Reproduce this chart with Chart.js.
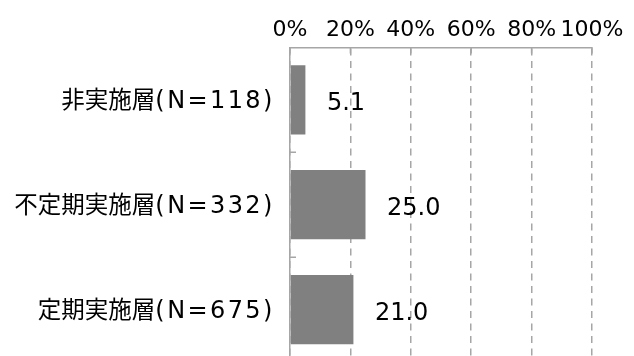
<!DOCTYPE html>
<html>
<head>
<meta charset="utf-8">
<script src="https://cdn.jsdelivr.net/npm/chart.js@4"></script>
<style>
  html, body { margin: 0; padding: 0; overflow: hidden; background: #fff; }
  #wrap { width: 634px; height: 362px; position: relative; }
</style>
</head>
<body>
<div id="wrap"><canvas id="myChart"></canvas></div>
<script>
const categories = ['非実施層(N=118)', '不定期実施層(N=332)', '定期実施層(N=675)'];
const values = [5.1, 25.0, 21.0];
const xTicks = [0, 20, 40, 60, 80, 100];

const lineGray = '#a6a6a6';
const latinFont = "'DejaVu Sans', 'Noto Sans CJK JP', sans-serif";
const cjkFont = "'Noto Sans CJK JP', sans-serif";

Chart.defaults.font.family = latinFont;
Chart.defaults.font.size = 22;
Chart.defaults.color = '#000';

// value text to the right of each bar
const barValues = {
  id: 'barValues',
  afterDatasetsDraw(chart) {
    const ctx = chart.ctx;
    const meta = chart.getDatasetMeta(0);
    ctx.save();
    ctx.font = '24px ' + latinFont;
    ctx.fillStyle = '#000';
    ctx.textAlign = 'left';
    ctx.textBaseline = 'alphabetic';
    meta.data.forEach((bar, i) => {
      ctx.fillText(values[i].toFixed(1), bar.x + 21.5, bar.y + 10.5);
    });
    ctx.restore();
  }
};

// category names: kanji part and "(N=...)" part in separate fonts
const categoryLabels = {
  id: 'categoryLabels',
  afterDraw(chart) {
    const ctx = chart.ctx;
    const y = chart.scales.y;
    const right = chart.chartArea.left - 19;
    ctx.save();
    ctx.fillStyle = '#000';
    ctx.textBaseline = 'alphabetic';
    categories.forEach((label, i) => {
      const cut = label.indexOf('(');
      const head = label.slice(0, cut);
      const tail = label.slice(cut);
      const py = y.getPixelForTick(i) + 8;

      ctx.font = '24px ' + latinFont;
      ctx.letterSpacing = '2.4px';
      ctx.textAlign = 'left';
      const m = ctx.measureText(tail);
      const x0 = right - m.actualBoundingBoxRight;
      ctx.fillText(tail, x0, py);

      ctx.font = '23.5px ' + cjkFont;
      ctx.letterSpacing = '0px';
      ctx.textAlign = 'right';
      ctx.fillText(head, x0, py);
    });
    ctx.restore();
  }
};

// short inward tick marks on both axes
const innerTicks = {
  id: 'innerTicks',
  afterDraw(chart) {
    const ctx = chart.ctx;
    const x = chart.scales.x, y = chart.scales.y;
    const area = chart.chartArea;
    ctx.save();
    ctx.strokeStyle = lineGray;
    ctx.lineWidth = 1.5;
    ctx.beginPath();
    xTicks.forEach(v => {
      const px = x.getPixelForValue(v);
      ctx.moveTo(px, area.top);
      ctx.lineTo(px, area.top + 6);
    });
    const step = (area.bottom - area.top) / categories.length;
    for (let i = 1; i < categories.length; i++) {
      const py = y.getPixelForTick(i) - step / 2;
      ctx.moveTo(area.left, py);
      ctx.lineTo(area.left + 6, py);
    }
    ctx.stroke();
    ctx.restore();
  }
};

const ctx = document.getElementById('myChart');

new Chart(ctx, {
  type: 'bar',
  data: {
    labels: categories,
    datasets: [{
      data: values,
      backgroundColor: '#808080',
      borderWidth: 0,
      barPercentage: 0.66,
      categoryPercentage: 1
    }]
  },
  plugins: [barValues, categoryLabels, innerTicks],
  options: {
    indexAxis: 'y',
    responsive: true,
    maintainAspectRatio: false,
    animation: false,
    layout: { padding: { top: 13, right: 42, bottom: 0, left: 0 } },
    plugins: {
      legend: { display: false },
      tooltip: { enabled: false }
    },
    scales: {
      x: {
        position: 'top',
        min: 0,
        max: 100,
        afterBuildTicks: scale => { scale.ticks = xTicks.map(v => ({ value: v })); },
        ticks: {
          padding: 4,
          maxRotation: 0,
          minRotation: 0,
          autoSkip: false,
          callback: v => v + '%'
        },
        grid: { color: lineGray, lineWidth: 1.5, drawTicks: false },
        border: { color: lineGray, width: 1.5, dash: [7, 5.5] }
      },
      y: {
        afterFit: scale => { scale.width = 290; },
        ticks: { display: false },
        grid: { display: false, drawTicks: false },
        border: { color: lineGray, width: 1.5 }
      }
    }
  }
});
</script>
</body>
</html>
